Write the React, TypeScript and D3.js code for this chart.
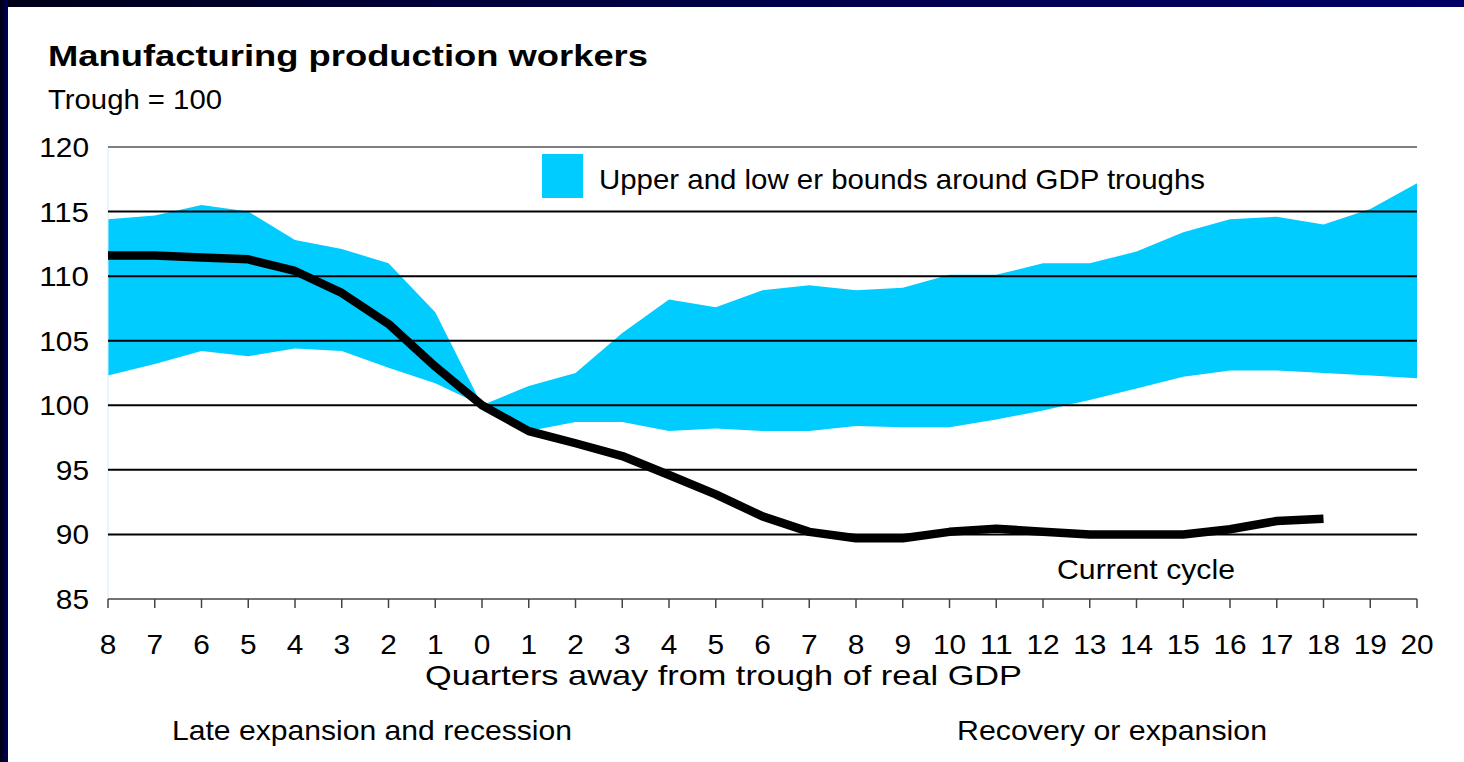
import * as d3 from 'd3'

const WIDTH = 1464
const HEIGHT = 762
const FONT = '"Liberation Sans", Arial, Helvetica, sans-serif'

// quarters away from the GDP trough (negative = before)
const quarters = [-8, -7, -6, -5, -4, -3, -2, -1, 0, 1, 2, 3, 4, 5, 6, 7, 8, 9, 10, 11, 12, 13, 14, 15, 16, 17, 18, 19, 20]
const quarterLabels = ['8', '7', '6', '5', '4', '3', '2', '1', '0', '1', '2', '3', '4', '5', '6', '7', '8', '9', '10', '11', '12', '13', '14', '15', '16', '17', '18', '19', '20']

const upperBound = [114.4, 114.7, 115.5, 115.0, 112.8, 112.1, 111.0, 107.2, 100.0, 101.5, 102.5, 105.6, 108.2, 107.6, 108.9, 109.3, 108.9, 109.1, 110.1, 110.1, 111.0, 111.0, 111.9, 113.4, 114.4, 114.6, 114.0, 115.2, 117.2]
const lowerBound = [102.3, 103.2, 104.2, 103.8, 104.4, 104.2, 102.9, 101.7, 100.0, 98.0, 98.7, 98.7, 98.0, 98.2, 98.0, 98.0, 98.4, 98.3, 98.3, 98.9, 99.6, 100.4, 101.3, 102.2, 102.7, 102.7, 102.5, 102.3, 102.1]
// current cycle runs through quarter 18
const currentCycle = [111.6, 111.6, 111.45, 111.3, 110.4, 108.7, 106.3, 103.0, 100.0, 98.0, 97.06, 96.07, 94.6, 93.1, 91.4, 90.2, 89.7, 89.7, 90.2, 90.45, 90.2, 90.0, 90.0, 90.0, 90.4, 91.04, 91.22]

const yTicks = [85, 90, 95, 100, 105, 110, 115, 120]

const PLOT = { left: 108, right: 1417, top: 147, bottom: 599 }
const DIGIT_W = 16.6 // the slide text is a bit wider than Liberation Sans

export default function App() {
  const x = d3.scaleLinear().domain([-8, 20]).range([PLOT.left, PLOT.right])
  const y = d3.scaleLinear().domain([85, 120]).range([PLOT.bottom, PLOT.top])

  const band = quarters.map((q, i) => ({ q, lo: lowerBound[i], hi: upperBound[i] }))
  const areaGen = d3.area<{ q: number; lo: number; hi: number }>()
    .x(d => x(d.q))
    .y0(d => y(d.lo))
    .y1(d => y(d.hi))

  const lineData = currentCycle.map((v, i) => ({ q: quarters[i], v }))
  const lineGen = d3.line<{ q: number; v: number }>()
    .x(d => x(d.q))
    .y(d => y(d.v))

  return (
    <svg width={WIDTH} height={HEIGHT} style={{ position: 'fixed', left: 0, top: 0 }} fontFamily={FONT}>
      <defs>
        <linearGradient id="leftEdge" x1="0" x2="1" y1="0" y2="0">
          <stop offset="0%" stopColor="#00000f" />
          <stop offset="100%" stopColor="#000060" />
        </linearGradient>
        <linearGradient id="topEdge" x1="0" x2="1" y1="0" y2="0">
          <stop offset="0%" stopColor="#000018" />
          <stop offset="30%" stopColor="#00003a" />
          <stop offset="100%" stopColor="#000066" />
        </linearGradient>
      </defs>

      {/* slide frame */}
      <rect x={0} y={0} width={WIDTH} height={HEIGHT} fill="#000060" />
      <rect x={0} y={0} width={WIDTH} height={7} fill="url(#topEdge)" />
      <rect x={0} y={0} width={8} height={HEIGHT} fill="url(#leftEdge)" />
      <rect x={8} y={7} width={WIDTH - 8} height={HEIGHT - 7} fill="#ffffff" />

      {/* titles */}
      <text x={48} y={66} fontSize={30} fontWeight="bold" fill="#000" textLength={600} lengthAdjust="spacingAndGlyphs">
        Manufacturing production workers
      </text>
      <text x={48} y={109} fontSize={28} fill="#000" textLength={174} lengthAdjust="spacingAndGlyphs">Trough = 100</text>

      {/* band */}
      <path d={areaGen(band) ?? ''} fill="#00ccff" />

      {/* left axis edge */}
      <line x1={PLOT.left} x2={PLOT.left} y1={PLOT.top} y2={PLOT.bottom} stroke="#cceeff" strokeWidth={1} />

      {/* gridlines */}
      {yTicks.filter(t => t > 85).map(t => (
        <line
          key={t}
          x1={PLOT.left}
          x2={PLOT.right}
          y1={y(t)}
          y2={y(t)}
          stroke="#000"
          strokeWidth={t === 120 ? 1.2 : 2}
        />
      ))}

      {/* y tick labels */}
      {yTicks.map(t => (
        <text
          key={t}
          x={89}
          y={y(t) + 10}
          textAnchor="end"
          fontSize={28}
          fill="#000"
          textLength={String(t).length * DIGIT_W}
          lengthAdjust="spacingAndGlyphs"
        >
          {t}
        </text>
      ))}

      {/* x axis */}
      <line x1={PLOT.left} x2={PLOT.right} y1={PLOT.bottom} y2={PLOT.bottom} stroke="#444" strokeWidth={1.5} />
      {quarters.map((q, i) => (
        <g key={i} transform={`translate(${x(q)},0)`}>
          <line y1={PLOT.bottom} y2={PLOT.bottom + 9} stroke="#444" strokeWidth={1.5} />
          <text
            y={654}
            textAnchor="middle"
            fontSize={28}
            fill="#000"
            textLength={quarterLabels[i].length * DIGIT_W}
            lengthAdjust="spacingAndGlyphs"
          >
            {quarterLabels[i]}
          </text>
        </g>
      ))}

      {/* current cycle */}
      <path d={lineGen(lineData) ?? ''} fill="none" stroke="#000" strokeWidth={8.5} strokeLinejoin="round" />

      {/* legend */}
      <rect x={542} y={154} width={41} height={44} fill="#00ccff" />
      <text x={599} y={189} fontSize={28} fill="#000" textLength={606} lengthAdjust="spacingAndGlyphs">
        Upper and low er bounds around GDP troughs
      </text>

      <text x={1057} y={579} fontSize={28} fill="#000" textLength={178} lengthAdjust="spacingAndGlyphs">Current cycle</text>

      {/* axis captions */}
      <text x={425} y={685} fontSize={28} fill="#000" textLength={597} lengthAdjust="spacingAndGlyphs">
        Quarters away from trough of real GDP
      </text>
      <text x={172} y={740} fontSize={28} fill="#000" textLength={400} lengthAdjust="spacingAndGlyphs">
        Late expansion and recession
      </text>
      <text x={957} y={740} fontSize={28} fill="#000" textLength={310} lengthAdjust="spacingAndGlyphs">
        Recovery or expansion
      </text>
    </svg>
  )
}
